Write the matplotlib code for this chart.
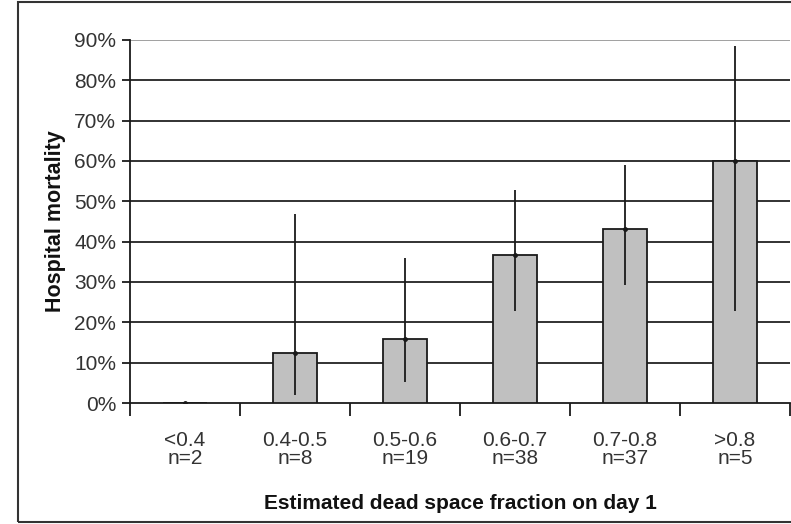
import matplotlib
matplotlib.use("Agg")
import matplotlib.pyplot as plt
from matplotlib.patches import Rectangle
from matplotlib.ticker import FixedLocator, PercentFormatter
from matplotlib import font_manager

# Hospital mortality by estimated dead space fraction on day 1
categories = ["<0.4", "0.4-0.5", "0.5-0.6", "0.6-0.7", "0.7-0.8", ">0.8"]
counts = [2, 8, 19, 38, 37, 5]
mortality = [0.0, 12.5, 15.8, 36.8, 43.2, 60.0]
ci_low = [0.0, 2.0, 5.3, 22.9, 29.3, 22.9]
ci_high = [0.0, 46.9, 36.0, 52.8, 58.9, 88.4]
yticks = [0, 10, 20, 30, 40, 50, 60, 70, 80, 90]

names = {f.name for f in font_manager.fontManager.ttflist}
tick_font = "Liberation Sans Narrow" if "Liberation Sans Narrow" in names else "Liberation Sans"

fig = plt.figure(figsize=(7.91, 5.24), dpi=100)
ax = fig.add_axes([0.1643, 0.2309, 0.8345, 0.6928])

x = list(range(len(categories)))
ax.bar(x, mortality, width=0.4, color="#c0c0c0", edgecolor="#1a1a1a",
       linewidth=1.3, zorder=3)
err = [[m - lo for m, lo in zip(mortality, ci_low)],
       [hi - m for m, hi in zip(mortality, ci_high)]]
ax.errorbar(x, mortality, yerr=err, fmt="o", ms=2.5, color="#1a1a1a",
            ecolor="#1a1a1a", elinewidth=1.3, capsize=0, zorder=4)

ax.set_xlim(-0.5, len(categories) - 0.5)
ax.set_ylim(0, 90)
ax.yaxis.set_major_locator(FixedLocator(yticks))
ax.yaxis.set_major_formatter(PercentFormatter(decimals=0))
for t in yticks[1:-1]:
    ax.axhline(t, color="#222222", lw=1.3, zorder=1)
ax.axhline(90, color="#999999", lw=1.3, zorder=1)

ax.set_xticks(x)
ax.set_xticklabels([f"{c}\nn={n}" for c, n in zip(categories, counts)],
                   fontfamily=tick_font, fontsize=15, color="#333333",
                   linespacing=0.95)
ax.tick_params(axis="x", length=0, pad=20)
ax.xaxis.set_minor_locator(FixedLocator([i + 0.5 for i in range(-1, len(categories))]))
ax.tick_params(axis="x", which="minor", length=9, width=1.3, color="#1a1a1a",
               direction="out")
ax.tick_params(axis="y", length=6, width=1.3, color="#1a1a1a", direction="out",
               labelsize=15, labelcolor="#333333", pad=4)
for lab in ax.get_yticklabels():
    lab.set_fontfamily(tick_font)

for s in ["top", "right"]:
    ax.spines[s].set_visible(False)
ax.spines["left"].set_linewidth(1.3)
ax.spines["bottom"].set_linewidth(1.3)
ax.spines["left"].set_color("#1a1a1a")
ax.spines["bottom"].set_color("#1a1a1a")

ax.set_ylabel("Hospital mortality", fontfamily="Liberation Sans", fontweight="bold",
              fontsize=15.5, color="#111111", labelpad=6)
ax.set_xlabel("Estimated dead space fraction on day 1", fontfamily="Liberation Sans",
              fontweight="bold", fontsize=15, color="#111111", labelpad=19)

fig.patches.append(Rectangle((18 / 791, 2 / 524), 1.0, 520 / 524,
                             transform=fig.transFigure, fill=False,
                             edgecolor="#333333", lw=1.5))

fig.savefig("out.png", dpi=100)
